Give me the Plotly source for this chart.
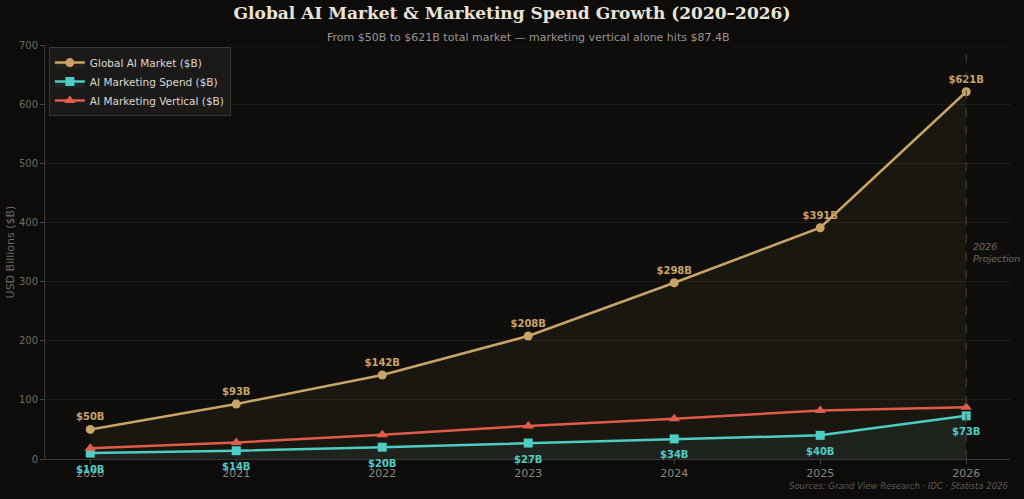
import plotly.graph_objects as go

years = [2020, 2021, 2022, 2023, 2024, 2025, 2026]
global_ai = [50, 93, 142, 208, 298, 391, 621]
mkt_spend = [10, 14, 20, 27, 34, 40, 73]
mkt_vertical = [18, 28, 41, 56, 68, 82, 87.4]

GOLD = "#c9a467"
TEAL = "#4ecdc4"
RED = "#e05c4a"
BG = "#0d0c0b"

fig = go.Figure()

fig.add_trace(go.Scatter(
    x=years, y=global_ai, name="Global AI Market ($B)", mode="lines+markers+text",
    line=dict(color=GOLD, width=2.5), marker=dict(symbol="circle", size=9, color=GOLD),
    fill="tozeroy", fillcolor="rgba(201,164,103,0.06)",
    text=[f"${v}B" for v in global_ai], textposition="top center", cliponaxis=False,
    textfont=dict(color=GOLD, size=10, family="DejaVu Sans", weight="bold"),
))
fig.add_trace(go.Scatter(
    x=years, y=mkt_spend, name="AI Marketing Spend ($B)", mode="lines+markers",
    line=dict(color=TEAL, width=2.5), marker=dict(symbol="square", size=9, color=TEAL),
    fill="tozeroy", fillcolor="rgba(78,205,196,0.07)",
))
fig.add_trace(go.Scatter(
    x=years, y=mkt_vertical, name="AI Marketing Vertical ($B)", mode="lines+markers",
    line=dict(color=RED, width=2.5), marker=dict(symbol="triangle-up", size=10, color=RED),
))

for yr, v in zip(years, mkt_spend):
    fig.add_annotation(x=yr, y=v, xref="x", yref="y", text=f"<b>${v}B</b>", showarrow=False,
                       yshift=-16, font=dict(color=TEAL, size=10, family="DejaVu Sans"))

fig.add_shape(type="line", x0=2026, x1=2026, y0=0, y1=1, yref="paper", xref="x",
              line=dict(color="#4a4538", width=1, dash="dash"))
fig.add_annotation(x=2026, y=350, xref="x", yref="y", text="2026<br>Projection",
                   showarrow=False, xanchor="left", xshift=5, align="left",
                   font=dict(color="#6f6a62", size=9.5, family="DejaVu Sans", style="italic"))

fig.add_annotation(x=0.5, y=1, xref="paper", yref="paper", yanchor="bottom", yshift=-1,
                   text="From $50B to $621B total market — marketing vertical alone hits $87.4B",
                   showarrow=False, font=dict(color="#9a958d", size=11, family="DejaVu Sans"))
fig.add_annotation(x=1, y=0, xref="paper", yref="paper", xanchor="right", yanchor="top",
                   yshift=-20, text="Sources: Grand View Research · IDC · Statista 2026",
                   showarrow=False,
                   font=dict(color="#5e5a54", size=8.5, family="DejaVu Sans", style="italic"))

fig.update_layout(
    width=1024, height=499,
    paper_bgcolor=BG, plot_bgcolor="#0f0e0c",
    margin=dict(l=45, r=14, t=45, b=40),
    title=dict(text="<b>Global AI Market & Marketing Spend Growth (2020–2026)</b>",
               x=0.5, xanchor="center", y=0.985, yanchor="top",
               font=dict(family="DejaVu Serif", size=17, color="#ebe4d6")),
    legend=dict(x=0.004, y=0.995, xanchor="left", yanchor="top",
                bgcolor="#1b1a18", bordercolor="#3a3834", borderwidth=1,
                font=dict(color="#ddd8ce", size=10.5, family="DejaVu Sans"),
                itemwidth=30, tracegroupgap=0),
    showlegend=True,
)
fig.update_xaxes(range=[2019.69, 2026.3], tickvals=years, ticktext=[str(y) for y in years],
                 showgrid=False, zeroline=False, tickfont=dict(color="#8a857d", size=11, family="DejaVu Sans"),
                 ticks="outside", ticklen=4, tickcolor="#444", linecolor="#3a3834", showline=True,
                 automargin=False)
fig.update_yaxes(range=[0, 700], dtick=100, gridcolor="#1e1d1b", zeroline=False,
                 tickfont=dict(color="#6f6a62", size=10, family="DejaVu Sans"),
                 ticks="outside", ticklen=4, tickcolor="#444", linecolor="#3a3834", showline=True,
                 automargin=False,
                 title=dict(text="USD Billions ($B)", font=dict(color="#6f6a62", size=11, family="DejaVu Sans"), standoff=2))

fig.write_html("out.html")
